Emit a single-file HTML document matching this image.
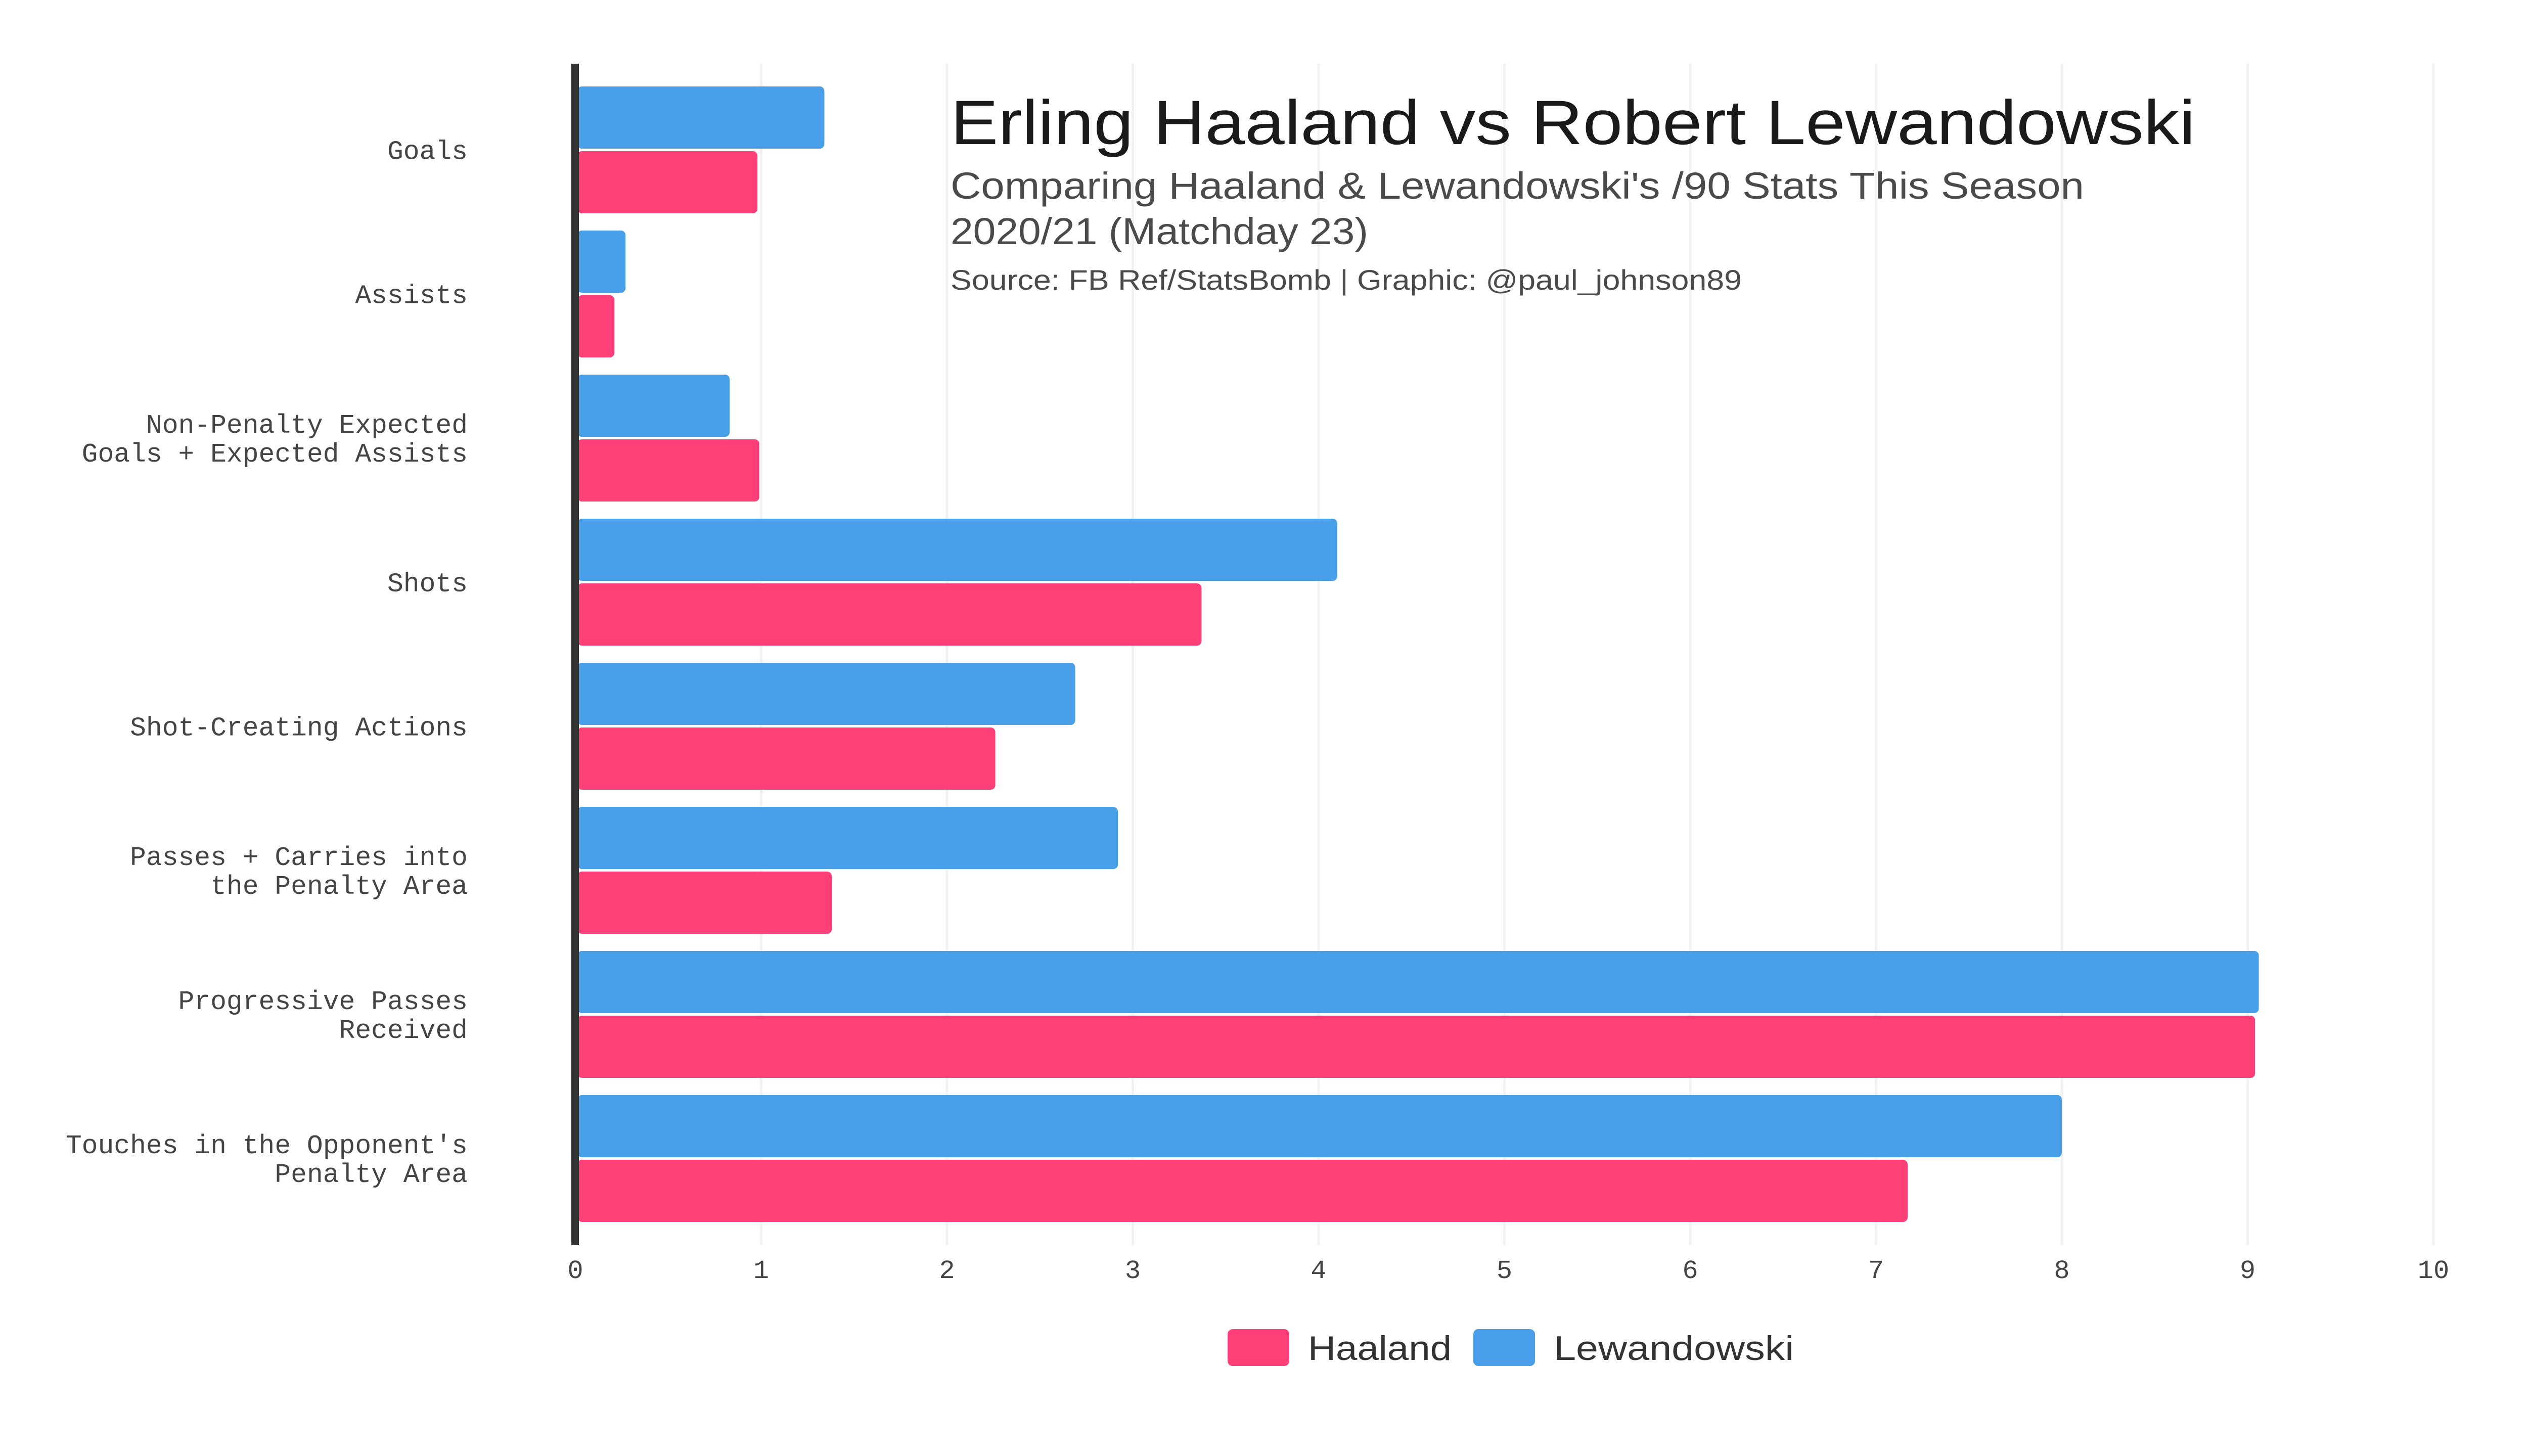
<!DOCTYPE html>
<html><head><meta charset="utf-8"><style>
html,body{margin:0;padding:0;background:#fff;}
svg{display:block;}
</style></head><body>
<svg id="chart" width="5120" height="2880" viewBox="0 0 5120 2880" xmlns="http://www.w3.org/2000/svg">
<rect width="5120" height="2880" fill="#fff"/>
<g id="grid"></g>
<g id="bars"></g>
<rect x="1130" y="126" width="15" height="2337" fill="#333"/>
<g id="ylabels" font-family="Liberation Mono, monospace" font-size="53" fill="#444" text-anchor="end"></g>
<g id="xticks" font-family="Liberation Mono, monospace" font-size="52" fill="#444" text-anchor="middle"></g>
<g font-family="Liberation Sans, sans-serif">
<text x="1880" y="285" font-size="124" fill="#1a1a1a" textLength="2462" lengthAdjust="spacingAndGlyphs">Erling Haaland vs Robert Lewandowski</text>
<text x="1880" y="393" font-size="74" fill="#4a4a4a" textLength="2242" lengthAdjust="spacingAndGlyphs">Comparing Haaland &amp; Lewandowski's /90 Stats This Season</text>
<text x="1880" y="483" font-size="74" fill="#4a4a4a" textLength="826" lengthAdjust="spacingAndGlyphs">2020/21 (Matchday 23)</text>
<text x="1880" y="573" font-size="56" fill="#4a4a4a" textLength="1565" lengthAdjust="spacingAndGlyphs">Source: FB Ref/StatsBomb | Graphic: @paul_johnson89</text>
</g>
<g font-family="Liberation Sans, sans-serif" font-size="68" fill="#333">
<rect x="2428" y="2629" width="122" height="73" rx="10" fill="#FF3F77"/>
<text x="2587" y="2690" textLength="284" lengthAdjust="spacingAndGlyphs">Haaland</text>
<rect x="2914" y="2629" width="122" height="73" rx="10" fill="#4AA0E8"/>
<text x="3073" y="2690" textLength="475" lengthAdjust="spacingAndGlyphs">Lewandowski</text>
</g>
</svg>
<script>
const categories = [["Goals"],["Assists"],["Non-Penalty Expected","Goals + Expected Assists"],["Shots"],["Shot-Creating Actions"],["Passes + Carries into","the Penalty Area"],["Progressive Passes","Received"],["Touches in the Opponent's","Penalty Area"]];
const lewandowski = [1.34, 0.27, 0.83, 4.10, 2.69, 2.92, 9.06, 8.00];
const haaland = [0.98, 0.21, 0.99, 3.37, 2.26, 1.38, 9.04, 7.17];
const xTicks = [0,1,2,3,4,5,6,7,8,9,10];

const NS = "http://www.w3.org/2000/svg";
const X0 = 1138, UNIT = 367.5;
const Y0 = 296.5, STEP = 285, BH = 123;
function xs(v){ return X0 + v * UNIT; }
function yc(i){ return Y0 + i * STEP; }
function mk(tag, attrs, parent){ const e=document.createElementNS(NS,tag); for(const k in attrs) e.setAttribute(k,attrs[k]); parent.appendChild(e); return e; }

const grid = document.getElementById('grid');
const xt = document.getElementById('xticks');
xTicks.forEach(t=>{
  const l = mk('line',{x1:xs(t),x2:xs(t),y1:126,y2:2463,stroke:'#f2f2f2','stroke-width':5},grid);
  
  
  const tx = mk('text',{x:xs(t),y:2528},xt);
  tx.textContent = t;
  
  
});

const bars = document.getElementById('bars');
const yl = document.getElementById('ylabels');
categories.forEach((c,i)=>{
  const cy = yc(i);
  const b1 = mk('rect',{x:X0+4,y:cy-BH-2.5,width:Math.max(0,xs(lewandowski[i])-X0-4),height:BH,rx:9,fill:'#4AA0E8'},bars);
  
  
  const b2 = mk('rect',{x:X0+4,y:cy+2.5,width:Math.max(0,xs(haaland[i])-X0-4),height:BH,rx:9,fill:'#FF3F77'},bars);
  
  
  const n = c.length;
  c.forEach((line,j)=>{
    const t = mk('text',{x:925,y:cy + 18 + (j-(n-1)/2)*57},yl);
    t.textContent = line;
    
    
  });
});
</script>
</body></html>
